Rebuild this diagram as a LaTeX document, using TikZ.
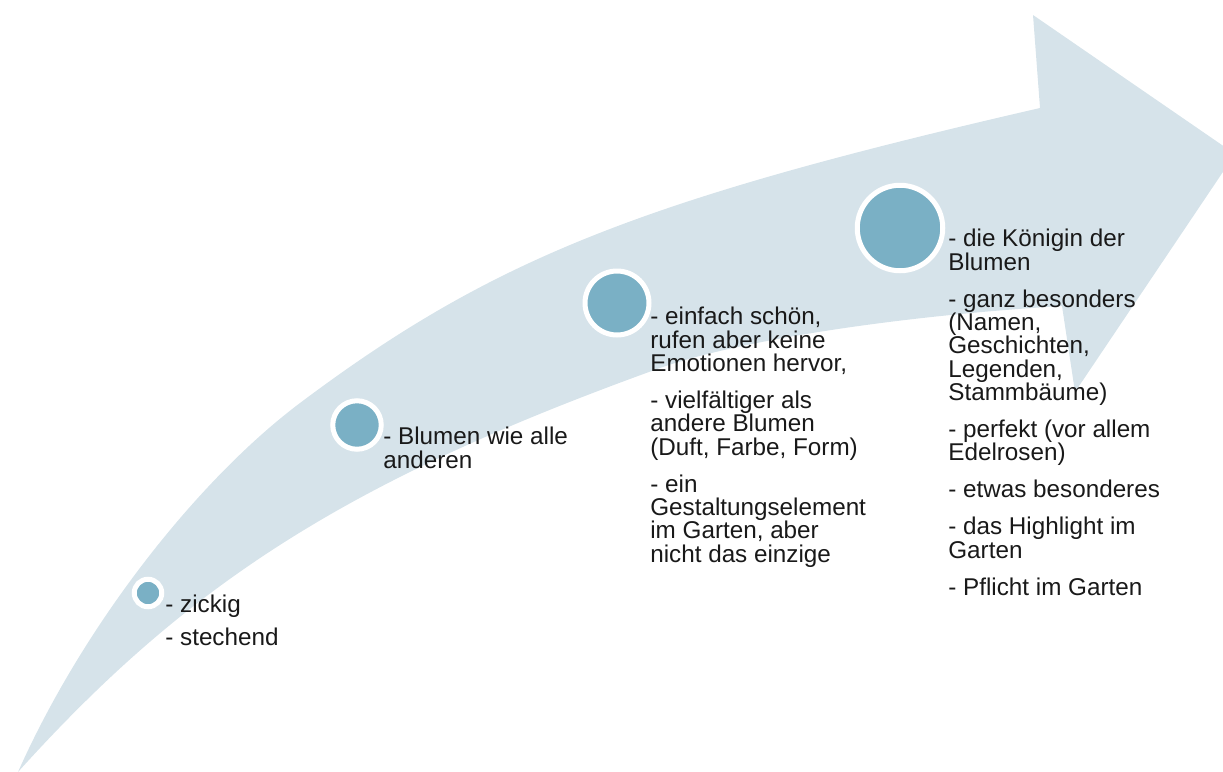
\documentclass[tikz,border=0pt]{standalone}
\usepackage{fontspec}
\setmainfont{Liberation Sans}
\usepackage{tikz}
\definecolor{arrow_blue}{RGB}{214,227,234}
\definecolor{node_blue}{RGB}{122,176,197}
\definecolor{text_grey}{RGB}{25,25,25}

\begin{document}
\begin{tikzpicture}[x=0.02cm,y=-0.02cm]
    \tikzstyle{stage}=[draw=white, circle, line width=2.85pt, fill=node_blue, inner sep=0pt]
    \tikzstyle{notes}=[anchor=base west, inner sep=0pt, align=left, text=text_grey, font=\fontsize{13.8}{13.26}\selectfont]

    \useasboundingbox (0,0) rectangle (1223,771);
    \clip (0,0) rectangle (1223,771);

    % bent arrow in the background
    \fill[arrow_blue] (18,772) .. controls (82,628) and (195,482) .. (300,403)
      .. controls (492,259) and (640,200) .. (1040,108)
      -- (1033,15) -- (1235,154) -- (1075,392) -- (1062,306)
      .. controls (896,316) and (736,341) .. (660,368)
      .. controls (352,479) and (191,580) .. (18,772) -- cycle;

    % stages
    \node[stage, minimum size=0.55cm] (A) at (148,593) {};
    \node[stage, minimum size=0.97cm] (B) at (357,425) {};
    \node[stage, minimum size=1.28cm] (C) at (617,303) {};
    \node[stage, minimum size=1.71cm] (D) at (900,228) {};

    % notes, placed by the baseline of their last line
    \node[notes] (a) at (165,645) {- zickig\\[5pt]- stechend};
    \node[notes] (b) at (383,468) {- Blumen wie alle\\anderen};
    \node[notes] (c) at (650,562) {- einfach schön,\\rufen aber keine\\Emotionen hervor,\\[7.8pt]- vielfältiger als\\andere Blumen\\(Duft, Farbe, Form)\\[7.8pt]- ein\\Gestaltungselement\\im Garten, aber\\nicht das einzige};
    \node[notes] (d) at (948,595) {- die Königin der\\Blumen\\[7.8pt]- ganz besonders\\(Namen,\\Geschichten,\\Legenden,\\Stammbäume)\\[7.8pt]- perfekt (vor allem\\Edelrosen)\\[7.8pt]- etwas besonderes\\[7.8pt]- das Highlight im\\Garten\\[7.8pt]- Pflicht im Garten};
\end{tikzpicture}
\end{document}
